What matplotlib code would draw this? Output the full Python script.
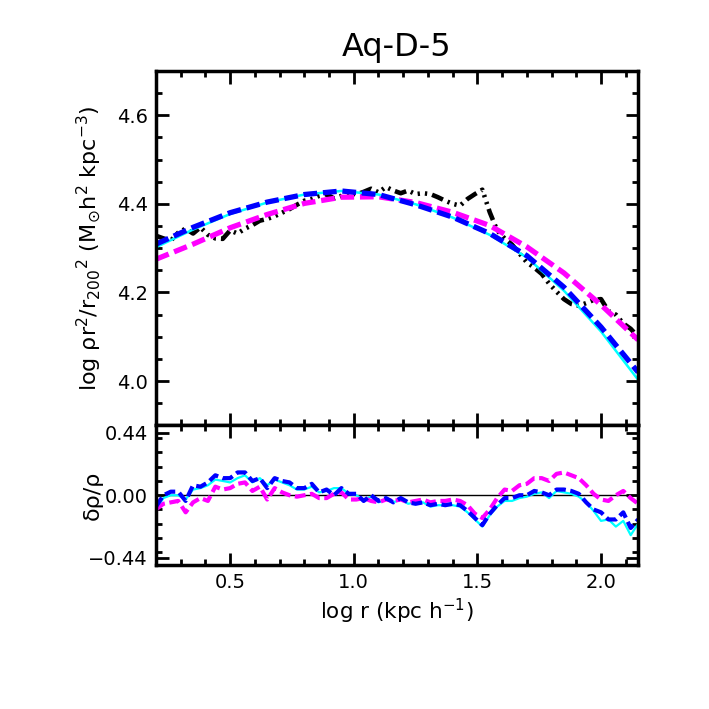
import matplotlib
matplotlib.use('Agg')
import matplotlib.pyplot as plt
from matplotlib.ticker import MultipleLocator, FixedLocator
import numpy as np

# simulation profile, log(rho r^2 / r200^2) against log r
log_r = [0.20, 0.23, 0.26, 0.29, 0.32, 0.35, 0.38, 0.41, 0.44, 0.47,
         0.50, 0.53, 0.56, 0.59, 0.62, 0.65, 0.68, 0.71, 0.74, 0.77,
         0.80, 0.83, 0.86, 0.89, 0.92, 0.95, 0.98, 1.01, 1.04, 1.07,
         1.10, 1.13, 1.16, 1.19, 1.22, 1.25, 1.28, 1.31, 1.34, 1.37,
         1.40, 1.43, 1.46, 1.49, 1.52, 1.55, 1.58, 1.61, 1.64, 1.67,
         1.70, 1.73, 1.76, 1.79, 1.82, 1.85, 1.88, 1.91, 1.94, 1.97,
         2.00, 2.03, 2.06, 2.09, 2.12, 2.15]
rho_data = [4.328, 4.322, 4.317, 4.335, 4.344, 4.333, 4.347, 4.330, 4.322, 4.321,
            4.340, 4.333, 4.344, 4.352, 4.362, 4.366, 4.372, 4.380, 4.388, 4.398,
            4.407, 4.411, 4.418, 4.422, 4.412, 4.418, 4.426, 4.421, 4.427, 4.434,
            4.426, 4.438, 4.430, 4.424, 4.430, 4.422, 4.424, 4.422, 4.415, 4.407,
            4.400, 4.396, 4.411, 4.422, 4.432, 4.381, 4.340, 4.322, 4.308, 4.288,
            4.268, 4.256, 4.242, 4.220, 4.202, 4.185, 4.174, 4.170, 4.176, 4.183,
            4.185, 4.158, 4.150, 4.130, 4.118, 4.100]

# fitted profiles
log_r_fit = [0.20, 0.35, 0.50, 0.65, 0.80, 0.95, 1.10, 1.25, 1.40, 1.55, 1.70, 1.85, 2.00, 2.15]
fit_blue = [4.309, 4.347, 4.380, 4.404, 4.421, 4.429, 4.421, 4.398, 4.370, 4.333, 4.283, 4.212, 4.122, 4.020]
fit_cyan = [4.302, 4.342, 4.377, 4.403, 4.421, 4.429, 4.421, 4.399, 4.369, 4.330, 4.279, 4.204, 4.112, 4.003]
fit_magenta = [4.275, 4.309, 4.346, 4.376, 4.401, 4.415, 4.416, 4.403, 4.381, 4.351, 4.303, 4.244, 4.172, 4.093]

# residuals
res_blue = [-0.08, 0.00, 0.025, 0.025, -0.04, 0.07, 0.06, 0.09, 0.14, 0.12,
            0.12, 0.16, 0.16, 0.10, 0.12, 0.05, 0.12, 0.10, 0.09, 0.05,
            0.05, 0.08, 0.02, 0.04, 0.00, 0.05, 0.01, 0.01, -0.04, 0.00,
            -0.04, -0.02, -0.05, -0.02, -0.05, -0.06, -0.05, -0.07, -0.06, -0.07,
            -0.06, -0.07, -0.11, -0.16, -0.21, -0.13, -0.07, -0.02, -0.02, 0.00,
            0.00, 0.03, 0.02, 0.00, 0.04, 0.04, 0.03, 0.01, -0.05, -0.10,
            -0.12, -0.17, -0.17, -0.12, -0.23, -0.17]
res_cyan = [-0.10, -0.02, 0.00, 0.00, -0.03, 0.04, 0.05, 0.07, 0.11, 0.10,
            0.09, 0.12, 0.14, 0.09, 0.12, 0.07, 0.11, 0.09, 0.07, 0.04,
            0.04, 0.06, 0.02, 0.03, 0.05, 0.05, 0.01, 0.00, -0.03, -0.01,
            -0.05, -0.03, -0.05, -0.03, -0.06, -0.05, -0.05, -0.08, -0.07, -0.07,
            -0.07, -0.08, -0.12, -0.17, -0.22, -0.14, -0.08, -0.04, -0.04, -0.02,
            -0.01, 0.01, 0.02, -0.02, 0.03, 0.02, 0.01, -0.01, -0.05, -0.11,
            -0.18, -0.17, -0.22, -0.18, -0.28, -0.20]
res_magenta = [-0.10, -0.06, -0.05, -0.04, -0.12, -0.05, -0.02, -0.04, 0.06, 0.04,
               0.05, 0.08, 0.09, 0.03, 0.06, -0.03, 0.05, 0.02, 0.00, -0.01,
               0.00, 0.01, -0.02, -0.02, 0.01, 0.02, -0.03, -0.03, -0.02, -0.04,
               -0.05, -0.03, -0.04, -0.03, -0.05, -0.04, -0.03, -0.05, -0.04, -0.04,
               -0.03, -0.04, -0.07, -0.13, -0.16, -0.10, -0.02, 0.04, 0.03, 0.07,
               0.08, 0.12, 0.12, 0.10, 0.15, 0.16, 0.14, 0.12, 0.07, 0.01,
               -0.03, -0.04, 0.00, 0.03, -0.02, -0.06]

res_ticks = [-0.44, 0.0, 0.44]
res_ticklabels = ['\u22120.44', '0.00', '0.44']

plt.rcParams['font.family'] = 'DejaVu Sans'
plt.rcParams['mathtext.fontset'] = 'dejavusans'

fig = plt.figure(figsize=(7.09, 7.09), dpi=100)
ax1 = fig.add_axes([0.22, 0.4, 0.68, 0.5])
ax2 = fig.add_axes([0.22, 0.203, 0.68, 0.197])

dash = (2.6, 1.1)
ddd = (2.6, 1.1, 0.5, 1.1, 0.5, 1.1, 0.5, 1.1)

ax1.plot(log_r, rho_data, color='black', lw=3.3, dashes=ddd)
ax1.plot(log_r_fit, fit_magenta, color='#FF00FF', lw=3.8, dashes=dash)
ax1.plot(log_r_fit, fit_cyan, color='#00FFFF', lw=1.8)
ax1.plot(log_r_fit, fit_blue, color='#0000FF', lw=3.8, dashes=dash)

ax2.axhline(0.0, color='black', lw=1.0)
ax2.plot(log_r, res_cyan, color='#00FFFF', lw=1.6)
ax2.plot(log_r, res_magenta, color='#FF00FF', lw=3.0, dashes=dash)
ax2.plot(log_r, res_blue, color='#0000FF', lw=3.0, dashes=dash)

for ax in (ax1, ax2):
    ax.set_xlim(0.2, 2.15)
    ax.xaxis.set_major_locator(FixedLocator([0.5, 1.0, 1.5, 2.0]))
    ax.xaxis.set_minor_locator(MultipleLocator(0.1))
    for s in ax.spines.values():
        s.set_linewidth(2.5)
    ax.tick_params(which='both', direction='in', top=True, right=True, width=2.0,
                   labelsize=14)
    ax.tick_params(which='major', length=9)
    ax.tick_params(which='minor', length=4.5)
    ax.tick_params(axis='y', pad=6)
    ax.tick_params(axis='x', pad=6)

ax1.set_ylim(3.9, 4.7)
ax1.yaxis.set_major_locator(FixedLocator([4.0, 4.2, 4.4, 4.6]))
ax1.yaxis.set_minor_locator(MultipleLocator(0.05))
ax1.set_yticklabels(['4.0', '4.2', '4.4', '4.6'])
ax1.tick_params(labelbottom=False)
ax1.set_title('Aq-D-5', fontsize=23, pad=11)
ax1.set_ylabel('log \u03c1r$^2$/r$_{200}$$^2$ (M$_{\\odot}$h$^2$ kpc$^{-3}$)', fontsize=16)

ax2.set_ylim(-0.49, 0.49)
ax2.yaxis.set_major_locator(FixedLocator(res_ticks))
ax2.yaxis.set_minor_locator(FixedLocator([-0.4, -0.3, -0.2, -0.1, 0.1, 0.2, 0.3, 0.4]))
ax2.set_yticklabels(res_ticklabels)
ax2.set_xticklabels(['0.5', '1.0', '1.5', '2.0'])
ax2.set_xlabel('log r (kpc h$^{-1}$)', fontsize=15.5, labelpad=3)
ax2.set_ylabel('\u03b4\u03c1/\u03c1', fontsize=16)
ax1.yaxis.set_label_coords(-0.11, 0.5)
ax2.yaxis.set_label_coords(-0.11, 0.5)

fig.savefig('out.png', dpi=100)
